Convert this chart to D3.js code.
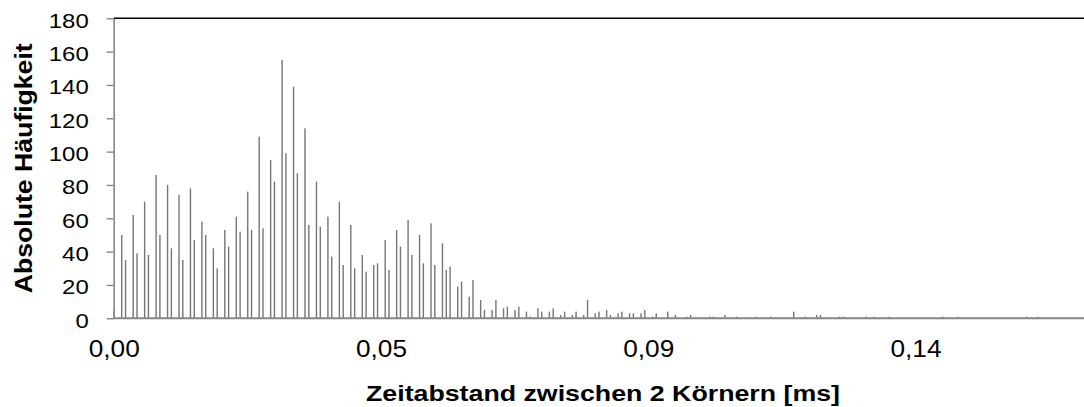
<!DOCTYPE html>
<html>
<head>
<meta charset="utf-8">
<script src="https://cdn.jsdelivr.net/npm/d3@7"></script>
<style>
  html, body { margin: 0; padding: 0; background: #fff; }
  svg { display: block; }
  text { font-family: "Liberation Sans", Arial, sans-serif; fill: #000; }
</style>
</head>
<body>
<svg id="chart" width="1084" height="407"></svg>
<script>
// Histogram of the time gap between two grains (counts per bin)
const counts = [
  5, 0, 50, 35, 0, 62, 39, 0, 70, 38,
  0, 86, 50, 0, 80, 42, 0, 74, 35, 0,
  78, 47, 0, 58, 50, 0, 42, 30, 0, 53,
  43, 0, 61, 52, 0, 76, 53, 0, 109, 54,
  0, 95, 82, 0, 155, 99, 0, 139, 87, 0,
  114, 56, 0, 82, 55, 0, 61, 37, 0, 70,
  32, 0, 56, 30, 0, 38, 28, 0, 32, 33,
  0, 47, 29, 0, 53, 43, 0, 59, 38, 0,
  50, 33, 0, 57, 32, 0, 45, 29, 31, 0,
  19, 22, 0, 13, 23, 0, 11, 5, 0, 5,
  11, 0, 6, 7, 0, 5, 7, 0, 4, 1,
  0, 6, 4, 0, 4, 6, 0, 2, 4, 0,
  2, 4, 0, 2, 11, 0, 3, 4, 0, 5,
  2, 0, 3, 4, 0, 3, 3, 0, 3, 5,
  0, 1, 3, 0, 0, 4, 0, 2, 0, 0,
  1, 2, 0, 0, 0, 0, 1, 1, 0, 0,
  2, 0, 0, 1, 0, 0, 0, 0, 1, 0,
  0, 0, 1, 0, 0, 0, 0, 0, 4, 0,
  0, 1, 0, 0, 2, 2, 0, 0, 0, 0,
  1, 1, 0, 0, 0, 0, 0, 1, 0, 1,
  0, 0, 0, 1, 0, 0, 0, 0, 0, 0,
  0, 0, 0, 0, 0, 0, 0, 1, 0, 0,
  0, 1, 0, 0, 0, 0, 0, 0, 0, 0,
  0, 0, 0, 0, 0, 0, 0, 0, 0, 1,
  0, 0, 1, 0, 0, 0, 0, 0, 0, 0,
  0, 0, 0, 0, 0
];
const bins = counts.map((_, i) => i);

// category labels shown on the x axis (every 70th bin)
const tickBins = [0, 70, 140, 210];
const tickLabels = ["0,00", "0,05", "0,09", "0,14"];

const yTicks = [0, 20, 40, 60, 80, 100, 120, 140, 160, 180];

const yTitle = "Absolute Häufigkeit";
const xTitle = "Zeitabstand zwischen 2 Körnern [ms]";

const plotLeft = 113.7, plotRight = 1083.5, plotTop = 18.3, plotBottom = 318.3;
const textStretch = 1.14;   // slightly widened lettering

const svg = d3.select("#chart");

const x = d3.scalePoint().domain(bins).range([plotLeft, plotRight]);
const y = d3.scaleLinear().domain([0, 180]).range([plotBottom, plotTop]);

// widen a text element horizontally while keeping its anchor
function stretch(sel, k) {
  sel.each(function () {
    const len = this.getComputedTextLength();
    d3.select(this).attr("textLength", len * k).attr("lengthAdjust", "spacingAndGlyphs");
  });
}

// frame line along the top of the plot
svg.append("line")
  .attr("x1", plotLeft).attr("x2", 1084)
  .attr("y1", plotTop).attr("y2", plotTop)
  .attr("stroke", "#000").attr("stroke-width", 1.6);

// bars
const barW = 1.4;
svg.append("g").selectAll("rect")
  .data(bins.filter(i => counts[i] > 0))
  .join("rect")
  .attr("x", i => x(i) - barW / 2 + 0.4)
  .attr("y", i => y(counts[i]))
  .attr("width", barW)
  .attr("height", i => plotBottom - y(counts[i]))
  .attr("fill", "#767676");

// y axis
const yAxis = svg.append("g")
  .attr("transform", `translate(${plotLeft},0)`)
  .call(d3.axisLeft(y).tickValues(yTicks).tickSize(7).tickSizeOuter(0).tickPadding(18));
yAxis.select(".domain").attr("stroke", "#868686").attr("stroke-width", 1.6);
yAxis.selectAll(".tick line").attr("stroke", "#868686").attr("stroke-width", 1.4);
yAxis.selectAll(".tick text")
  .attr("font-size", 21).attr("fill", "#000").attr("dy", "0.42em")
  .attr("font-family", "Liberation Sans, Arial, sans-serif")
  .call(stretch, textStretch);

// x axis
const xAxis = svg.append("g")
  .attr("transform", `translate(0,${plotBottom})`)
  .call(d3.axisBottom(x).tickValues(tickBins).tickSize(0).tickPadding(22)
    .tickFormat(d => tickLabels[tickBins.indexOf(d)]));
xAxis.select(".domain").attr("stroke", "#868686").attr("stroke-width", 2).attr("d", `M${plotLeft},0H1084`);
xAxis.selectAll(".tick text")
  .attr("font-size", 23).attr("fill", "#000").attr("dy", "0")
  .attr("y", 39)
  .attr("font-family", "Liberation Sans, Arial, sans-serif")
  .call(stretch, textStretch);

// axis titles
svg.append("text")
  .attr("transform", `translate(32,${(plotTop + plotBottom) / 2}) rotate(-90)`)
  .attr("text-anchor", "middle")
  .attr("font-size", 23).attr("font-weight", "bold")
  .attr("textLength", 250).attr("lengthAdjust", "spacingAndGlyphs")
  .text(yTitle);

svg.append("text")
  .attr("x", 603).attr("y", 401)
  .attr("text-anchor", "middle")
  .attr("font-size", 22).attr("font-weight", "bold")
  .attr("textLength", 474).attr("lengthAdjust", "spacingAndGlyphs")
  .text(xTitle);
</script>
</body>
</html>
